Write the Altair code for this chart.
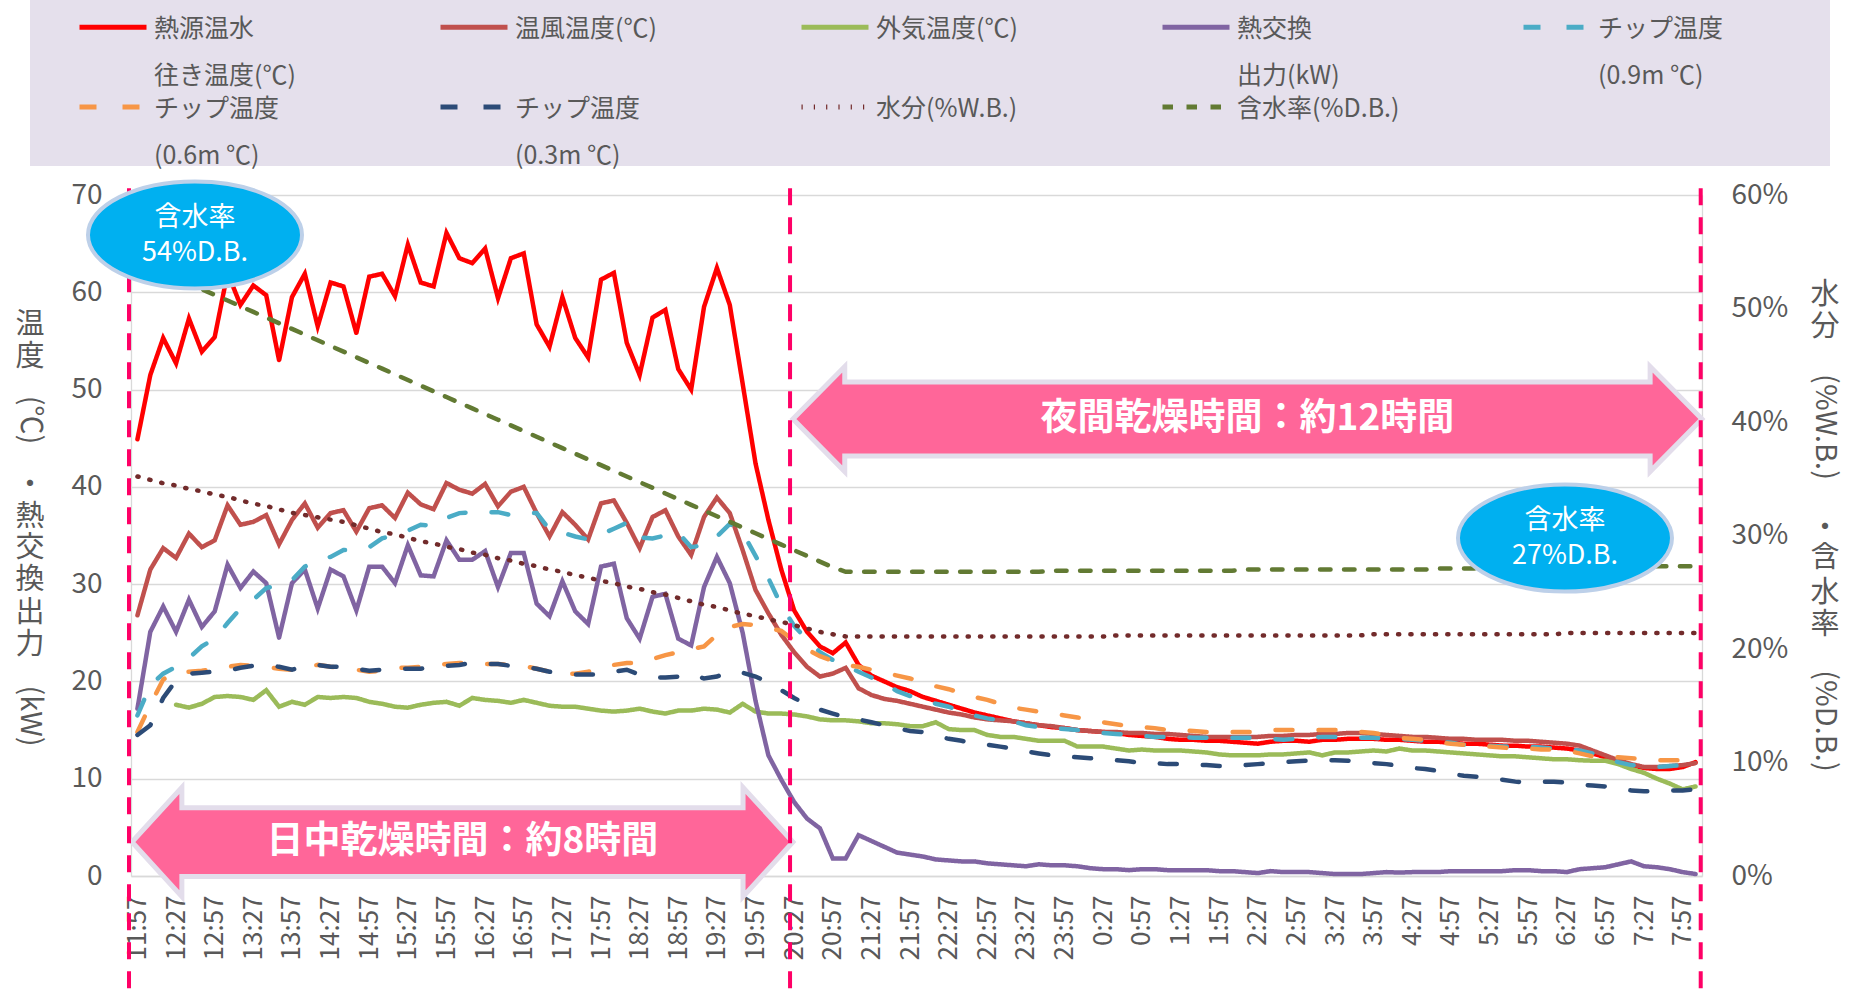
import altair as alt
import pandas as pd

FONT = "Noto Sans CJK JP"
GRAY = "#595959"

# ---- x-axis tick labels (every 3rd 10-minute sample) ----
tick_labels = ["11:57", "12:27", "12:57", "13:27", "13:57", "14:27", "14:57", "15:27",
               "15:57", "16:27", "16:57", "17:27", "17:57", "18:27", "18:57", "19:27",
               "19:57", "20:27", "20:57", "21:27", "21:57", "22:27", "22:57", "23:27",
               "23:57", "0:27", "0:57", "1:27", "1:57", "2:27", "2:57", "3:27", "3:57",
               "4:27", "4:57", "5:27", "5:57", "6:27", "6:57", "7:27", "7:57"]

# ---- series (10-minute samples, 11:57 -> 8:07) ----
hot_water = [44.9, 51.5, 55.3, 52.7, 57.3, 53.9, 55.4, 62.0, 58.7, 60.7,
             59.7, 53.0, 59.5, 61.9, 56.5, 61.0, 60.6, 55.8, 61.6, 61.9,
             59.6, 64.9, 61.0, 60.6, 66.1, 63.5, 63.0, 64.5, 59.4, 63.5,
             64.0, 56.7, 54.4, 59.5, 55.3, 53.3, 61.3, 62.0, 54.8, 51.5,
             57.4, 58.2, 52.1, 50.0, 58.5, 62.5, 58.7, 50.6, 42.4, 36.6,
             31.5, 27.3, 25.1, 23.6, 22.9, 24.0, 21.7, 20.6, 20.0, 19.4,
             19.0, 18.4, 18.0, 17.6, 17.2, 16.8, 16.5, 16.2, 15.9, 15.7,
             15.5, 15.3, 15.2, 15.0, 14.9, 14.8, 14.7, 14.5, 14.4, 14.3,
             14.1, 14.0, 14.0, 13.9, 13.9, 13.8, 13.7, 13.6, 13.8, 13.9,
             13.9, 13.8, 14.0, 14.0, 14.1, 14.1, 14.1, 14.0, 14.0, 13.9,
             13.8, 13.8, 13.7, 13.6, 13.6, 13.5, 13.4, 13.4, 13.3, 13.3,
             13.2, 13.1, 12.9, 12.6, 12.2, 11.8, 11.4, 11.1, 11.0, 11.0,
             11.2, 11.7]

warm_air = [26.8, 31.5, 33.7, 32.7, 35.2, 33.8, 34.5, 38.1, 36.1, 36.4,
            37.1, 34.1, 36.6, 38.3, 35.8, 37.3, 37.6, 35.4, 37.8, 38.1,
            36.8, 39.4, 38.2, 37.7, 40.4, 39.7, 39.3, 40.3, 38.0, 39.5,
            40.0, 37.3, 34.9, 37.4, 36.1, 34.6, 38.3, 38.6, 36.3, 33.7,
            36.9, 37.6, 34.9, 33.0, 36.9, 38.9, 37.3, 33.5, 29.4, 27.0,
            24.8, 23.0, 21.5, 20.5, 20.8, 21.4, 19.3, 18.6, 18.2, 18.0,
            17.7, 17.4, 17.1, 16.8, 16.6, 16.3, 16.1, 16.0, 15.9, 15.7,
            15.5, 15.4, 15.2, 15.0, 14.9, 14.8, 14.8, 14.7, 14.7, 14.6,
            14.6, 14.5, 14.4, 14.3, 14.3, 14.3, 14.3, 14.3, 14.4, 14.4,
            14.5, 14.5, 14.6, 14.6, 14.7, 14.7, 14.6, 14.5, 14.4, 14.3,
            14.3, 14.2, 14.1, 14.1, 14.0, 14.0, 14.0, 13.9, 13.9, 13.8,
            13.7, 13.6, 13.4, 12.9, 12.4, 11.9, 11.5, 11.2, 11.2, 11.3,
            11.4, 11.6]

outside_air = [None, None, None, 17.6, 17.3, 17.7, 18.4, 18.5, 18.4, 18.1,
               19.1, 17.4, 17.9, 17.6, 18.4, 18.3, 18.4, 18.3, 17.9, 17.7,
               17.4, 17.3, 17.6, 17.8, 17.9, 17.5, 18.3, 18.1, 18.0, 17.8,
               18.1, 17.8, 17.5, 17.4, 17.4, 17.2, 17.0, 16.9, 17.0, 17.2,
               16.9, 16.7, 17.0, 17.0, 17.2, 17.1, 16.8, 17.7, 16.9, 16.7,
               16.7, 16.6, 16.4, 16.1, 16.0, 16.0, 15.9, 15.7, 15.7, 15.6,
               15.4, 15.4, 15.8, 15.1, 15.0, 15.0, 14.5, 14.3, 14.3, 14.1,
               13.9, 13.9, 13.9, 13.3, 13.3, 13.3, 13.1, 12.9, 13.0, 12.9,
               12.9, 12.9, 12.8, 12.7, 12.5, 12.4, 12.4, 12.4, 12.5, 12.5,
               12.6, 12.7, 12.4, 12.7, 12.7, 12.8, 12.9, 12.8, 13.1, 12.9,
               12.9, 12.8, 12.7, 12.6, 12.5, 12.4, 12.3, 12.3, 12.2, 12.1,
               12.0, 12.0, 11.9, 11.85, 11.85, 11.5, 11.0, 10.6, 10.0, 9.5,
               8.9, 9.2]

heat_output = [17.2, 25.1, 27.7, 25.1, 28.4, 25.6, 27.2, 32.0, 29.6, 31.3,
               30.1, 24.5, 30.1, 31.5, 27.5, 31.5, 30.8, 27.3, 31.8, 31.8,
               30.1, 34.0, 30.9, 30.8, 34.5, 32.5, 32.5, 33.4, 29.7, 33.2,
               33.2, 28.0, 26.7, 30.3, 27.2, 25.9, 31.8, 32.1, 26.5, 24.4,
               28.7, 29.0, 24.4, 23.7, 29.7, 32.8, 30.1, 25.0, 18.0, 12.4,
               9.9, 7.6, 5.9, 4.9, 1.8, 1.8, 4.2, 3.6, 3.0, 2.4,
               2.2, 2.0, 1.7, 1.6, 1.5, 1.5, 1.3, 1.2, 1.1, 1.0,
               1.2, 1.1, 1.1, 1.0, 0.8, 0.7, 0.7, 0.6, 0.7, 0.7,
               0.6, 0.6, 0.6, 0.6, 0.5, 0.5, 0.4, 0.3, 0.5, 0.4,
               0.4, 0.4, 0.3, 0.2, 0.2, 0.2, 0.3, 0.4, 0.35, 0.4,
               0.4, 0.4, 0.5, 0.5, 0.5, 0.5, 0.5, 0.6, 0.6, 0.5,
               0.5, 0.4, 0.7, 0.8, 0.9, 1.2, 1.5, 1.0, 0.9, 0.7,
               0.4, 0.2]

chip_09 = [16.5, 19.6, 20.8, 21.5, 22.4, 23.6, 24.4, 26.0, 27.5, 28.4,
           29.6, 29.9, 30.4, 31.8, 32.5, 32.8, 33.5, 33.5, 33.8, 34.7,
           35.1, 35.5, 36.1, 36.0, 36.8, 37.3, 37.4, 37.4, 37.4, 37.1,
           37.3, 37.3, 35.6, 35.3, 34.9, 34.6, 35.1, 35.7, 36.3, 34.8,
           34.7, 35.0, 35.3, 33.8, 34.0, 34.9, 36.2, 35.3, 32.9, 30.6,
           27.8, 25.7, 24.3, 23.0, 22.2, 21.6, 21.0, 20.4, 19.8, 19.0,
           18.5, 18.2, 17.7, 17.4, 16.9, 16.5, 16.2, 16.0, 15.9, 15.5,
           15.3, 15.2, 15.1, 15.0, 14.8, 14.7, 14.6, 14.5, 14.4, 14.3,
           14.3, 14.3, 14.2, 14.2, 14.2, 14.2, 14.2, 14.2, 14.1, 14.0,
           14.1, 14.2, 14.3, 14.3, 14.3, 14.2, 14.2, 14.1, 14.1, 14.0,
           13.9, 13.8, 13.7, 13.5, 13.5, 13.4, 13.3, 13.3, 13.3, 13.2,
           13.1, 13.0, 12.9, 12.6, 12.2, 11.7, 11.4, 11.3, 11.2, 11.3,
           11.4, 11.6]

chip_06 = [14.8, 17.6, 20.2, 21.0, 21.0, 21.1, 21.3, 21.5, 21.7, 21.6,
           21.5, 21.3, 21.2, 21.5, 21.7, 21.5, 21.4, 21.2, 21.0, 21.1,
           21.4, 21.4, 21.5, 21.6, 21.8, 21.9, 21.9, 21.8, 21.8, 21.7,
           21.6, 21.3, 21.0, 20.8, 20.8, 21.0, 21.2, 21.7, 21.9, 21.9,
           22.3, 22.7, 23.0, 23.3, 23.6, 24.8, 25.6, 25.9, 25.8, 25.5,
           25.2, 24.2, 23.3, 22.6, 22.1, 21.7, 21.5, 21.2, 20.9, 20.6,
           20.3, 20.0, 19.5, 19.2, 18.8, 18.4, 18.1, 17.7, 17.3, 17.1,
           16.9, 16.7, 16.5, 16.3, 16.1, 15.8, 15.6, 15.4, 15.3, 15.2,
           15.0, 15.0, 14.9, 14.8, 14.8, 14.8, 14.8, 14.8, 15.0, 15.0,
           15.0, 15.0, 15.0, 15.0, 14.9, 14.8, 14.7, 14.5, 14.2, 14.1,
           14.0, 13.7, 13.6, 13.5, 13.4, 13.3, 13.2, 13.1, 13.1, 13.0,
           13.0, 12.9, 12.6, 12.3, 12.3, 12.2, 12.1, 12.0, 11.9, 11.9,
           11.9, 12.0]

chip_03 = [14.5, 15.5, 18.3, 20.1, 20.8, 20.9, 21.0, 21.1, 21.4, 21.6,
           21.7, 21.5, 21.2, 21.6, 21.7, 21.5, 21.5, 21.3, 21.1, 21.2,
           21.3, 21.3, 21.3, 21.5, 21.6, 21.7, 21.9, 21.8, 21.8, 21.6,
           21.5, 21.3, 21.0, 20.8, 20.7, 20.7, 20.7, 21.0, 21.2, 20.7,
           20.4, 20.4, 20.5, 20.8, 20.3, 20.5, 21.0, 20.9, 20.5, 19.9,
           19.1, 18.3, 17.6, 17.1, 16.7, 16.3, 16.1, 15.8, 15.5, 15.2,
           14.9, 14.8, 14.4, 14.1, 13.9, 13.6, 13.5, 13.3, 13.1, 12.8,
           12.6, 12.4, 12.3, 12.2, 12.1, 12.0, 11.9, 11.8, 11.6, 11.6,
           11.5, 11.5, 11.4, 11.4, 11.3, 11.3, 11.4, 11.5, 11.6, 11.7,
           11.8, 11.85, 11.9, 11.9, 11.85, 11.7, 11.6, 11.5, 11.3, 11.1,
           11.0, 10.8, 10.5, 10.3, 10.2, 10.0, 9.9, 9.7, 9.6, 9.7,
           9.7, 9.6, 9.4, 9.3, 9.2, 8.9, 8.8, 8.7, 8.7, 8.8,
           8.8, 8.9]

moisture_wb = [35.2, 34.9, 34.6, 34.4, 34.1, 33.9, 33.6, 33.4, 33.1, 32.8,
               32.6, 32.3, 32.0, 31.8, 31.6, 31.4, 31.2, 30.9, 30.6, 30.3,
               30.1, 29.8, 29.5, 29.3, 29.0, 28.8, 28.5, 28.3, 28.0, 27.8,
               27.5, 27.3, 27.0, 26.8, 26.5, 26.3, 26.0, 25.8, 25.5, 25.3,
               25.0, 24.8, 24.5, 24.2, 23.9, 23.7, 23.4, 23.1, 22.9, 22.6,
               22.4, 22.1, 21.8, 21.5, 21.3, 21.1, 21.1, 21.1, 21.1, 21.1,
               21.1, 21.1, 21.1, 21.1, 21.1, 21.1, 21.1, 21.1, 21.1, 21.1,
               21.1, 21.1, 21.1, 21.1, 21.1, 21.1, 21.2, 21.2, 21.2, 21.2,
               21.2, 21.2, 21.2, 21.2, 21.2, 21.2, 21.2, 21.2, 21.2, 21.2,
               21.2, 21.2, 21.2, 21.2, 21.2, 21.2, 21.3, 21.3, 21.3, 21.3,
               21.3, 21.3, 21.3, 21.3, 21.3, 21.3, 21.3, 21.3, 21.3, 21.3,
               21.3, 21.4, 21.4, 21.4, 21.4, 21.4, 21.4, 21.4, 21.4, 21.4,
               21.4, 21.4]

moisture_db = [54.2, 53.7, 53.2, 52.7, 52.2, 51.7, 51.2, 50.7, 50.2, 49.7,
               49.2, 48.7, 48.2, 47.7, 47.2, 46.7, 46.2, 45.7, 45.2, 44.7,
               44.2, 43.7, 43.2, 42.7, 42.2, 41.7, 41.2, 40.7, 40.2, 39.7,
               39.2, 38.7, 38.2, 37.7, 37.2, 36.7, 36.2, 35.7, 35.2, 34.7,
               34.2, 33.7, 33.2, 32.7, 32.2, 31.7, 31.2, 30.7, 30.2, 29.7,
               29.2, 28.7, 28.2, 27.7, 27.2, 26.8, 26.8, 26.8, 26.8, 26.8,
               26.8, 26.8, 26.8, 26.8, 26.8, 26.8, 26.8, 26.8, 26.8, 26.8,
               26.8, 26.9, 26.9, 26.9, 26.9, 26.9, 26.9, 26.9, 26.9, 26.9,
               26.9, 26.9, 26.9, 26.9, 26.9, 26.9, 27.0, 27.0, 27.0, 27.0,
               27.0, 27.0, 27.0, 27.0, 27.0, 27.0, 27.0, 27.0, 27.0, 27.0,
               27.0, 27.1, 27.1, 27.1, 27.1, 27.1, 27.1, 27.1, 27.1, 27.1,
               27.1, 27.2, 27.2, 27.2, 27.2, 27.2, 27.2, 27.3, 27.3, 27.3,
               27.3, 27.3]

series_names = ["熱源温水\n往き温度(℃)", "温風温度(℃)", "外気温度(℃)", "熱交換\n出力(kW)",
                "チップ温度\n(0.9m ℃)", "チップ温度\n(0.6m ℃)", "チップ温度\n(0.3m ℃)",
                "水分(%W.B.)", "含水率(%D.B.)"]
series_colors = ["#FF0000", "#C0504D", "#9BBB59", "#8064A2", "#4BACC6", "#F79646",
                 "#2C4B77", "#722B2B", "#627A33"]
series_dashes = [[1, 0], [1, 0], [1, 0], [1, 0], [17, 26], [17, 26], [17, 26],
                 [1.2, 11.1], [10.5, 13.5]]

left_values = [hot_water, warm_air, outside_air, heat_output, chip_09, chip_06, chip_03]
right_values = [moisture_wb, moisture_db]


def long_table(names, value_lists):
    rows = []
    for name, vals in zip(names, value_lists):
        for i, v in enumerate(vals):
            rows.append({"i": i, "value": v, "series": name})
    return pd.DataFrame(rows)


left_df = long_table(series_names[:7], left_values)
right_df = long_table(series_names[7:], right_values)

# ---- annotations ----
arrow_day = "M-1,0L-0.849,-0.165L-0.849,-0.104L0.849,-0.104L0.849,-0.165L1,0L0.849,0.165L0.849,0.104L-0.849,0.104L-0.849,0.165Z"
arrow_night = "M-1,0L-0.886,-0.1155L-0.886,-0.0814L0.886,-0.0814L0.886,-0.1155L1,0L0.886,0.1155L0.886,0.0814L-0.886,0.0814L-0.886,0.1155Z"
ellipse = "M1,0C1,0.276 0.552,0.5 0,0.5C-0.552,0.5 -1,0.276 -1,0C-1,-0.276 -0.552,-0.5 0,-0.5C0.552,-0.5 1,-0.276 1,0Z"

arrows_df = pd.DataFrame({
    "i": [25.24, 86.2],
    "value": [3.49, 46.97],
    "path": [arrow_day, arrow_night],
    "sz": [436921, 826281],
    "label": ["日中乾燥時間：約8時間", "夜間乾燥時間：約12時間"],
})
ellipses_df = pd.DataFrame({
    "i": [4.47, 110.86],
    "value": [65.89, 34.74],
    "path": [ellipse, ellipse],
    "sz": [45796, 45796],
    "label": ["含水率\n54%D.B.", "含水率\n27%D.B."],
})
vlines_df = pd.DataFrame({"i": [-0.655, 50.68, 121.40], "top": [70.7, 70.7, 70.7],
                          "bottom": [-12.0, -12.0, -12.0]})

title_parts = pd.DataFrame([
    ("温", -101, 130, 0), ("度", -101, 162, 0), ("(℃)", -101, 225, 90), ("・", -101, 290, 0),
    ("熱", -101, 322, 0), ("交", -101, 353, 0), ("換", -101, 385, 0), ("出", -101, 418, 0),
    ("力", -101, 450, 0), ("(kW)", -101, 521, 90),
    ("水", 1694, 100, 0), ("分", 1694, 132, 0), ("(%W.B.)", 1694, 232, 90), ("・", 1694, 333, 0),
    ("含", 1694, 363, 0), ("水", 1694, 398, 0), ("率", 1694, 430, 0), ("(%D.B.)", 1694, 526, 90),
], columns=["t", "px", "py", "ang"])

# ---- scales / encodings ----
x_scale = alt.Scale(domain=[-0.5, 121.5], nice=False, zero=False)
label_expr = "[" + ",".join("'" + t + "'" for t in tick_labels) + "][round(datum.value / 3)]"
x_axis = alt.Axis(values=list(range(0, 121, 3)), labelExpr=label_expr, labelAngle=-90,
                  grid=False, ticks=False, tickSize=0, domain=True, domainColor="#D9D9D9",
                  domainWidth=1.3, labelPadding=19, labelFontSize=26, labelColor=GRAY,
                  labelFont=FONT, labelOverlap=False, labelFlush=False)
x_main = alt.X("i:Q", scale=x_scale, title=None, axis=x_axis)
y_ann = alt.Y("value:Q", scale=alt.Scale(domain=[0, 70], nice=False), axis=None)

leg = alt.Legend(title=None, orient="none", legendX=-54, legendY=-181, direction="horizontal",
                 columns=5, columnPadding=113, rowPadding=5, gridAlign="all",
                 labelFont=FONT, labelFontSize=25, labelColor=GRAY, labelLimit=400, labelOffset=18.5,
                 labelBaseline="alphabetic",
                 labelExpr="indexof(datum.label, '\\n') >= 0 ? split(datum.label, '\\n') : [datum.label, ' ']",
                 symbolType="M-1.675,-0.475L1.675,-0.475", symbolSize=1600, symbolOffset=13.5,
                 symbolStrokeWidth=5)
color_enc = alt.Color("series:N", scale=alt.Scale(domain=series_names, range=series_colors), legend=leg)
dash_enc = alt.StrokeDash("series:N", scale=alt.Scale(domain=series_names, range=series_dashes), legend=leg)

legend_bg = alt.Chart(pd.DataFrame({"a": [0]})).mark_rect(color="#E5E0EC").encode(
    x=alt.value(-101), x2=alt.value(1699), y=alt.value(-195), y2=alt.value(-29))

left_lines = alt.Chart(left_df).mark_line(strokeWidth=4.5, strokeCap="round").encode(
    x=x_main,
    y=alt.Y("value:Q", scale=alt.Scale(domain=[0, 70], nice=False), title=None,
            axis=alt.Axis(values=list(range(0, 71, 10)), grid=True, gridColor="#D9D9D9", gridWidth=1.3,
                          domain=True, domainColor="#D9D9D9", domainWidth=1.3, ticks=False,
                          labelPadding=29, labelFontSize=28, labelColor=GRAY, labelFont=FONT)),
    color=color_enc, strokeDash=dash_enc)

right_lines = alt.Chart(right_df).mark_line(strokeWidth=4.5, strokeCap="round").encode(
    x=x_main,
    y=alt.Y("value:Q", scale=alt.Scale(domain=[0, 60], nice=False), title=None,
            axis=alt.Axis(orient="right", values=list(range(0, 61, 10)), labelExpr="datum.value + '%'",
                          grid=False, domain=True, domainColor="#D9D9D9", domainWidth=1.3, ticks=False,
                          labelPadding=29, labelFontSize=28, labelColor=GRAY, labelFont=FONT)),
    color=color_enc, strokeDash=dash_enc)

arrows = alt.Chart(arrows_df).mark_point(filled=True, fill="#FF6699", stroke="#E3DDEB",
                                         strokeWidth=5, opacity=1).encode(
    x=x_main, y=y_ann, shape=alt.Shape("path:N", scale=None), size=alt.Size("sz:Q", scale=None))
arrow_text = alt.Chart(arrows_df).mark_text(font=FONT, fontSize=37, fontWeight="bold", color="white",
                                            align="center", baseline="middle").encode(
    x=x_main, y=y_ann, text="label:N")

vlines = alt.Chart(vlines_df).mark_rule(color="#FF0066", strokeWidth=4, strokeDash=[17, 12]).encode(
    x=x_main, y=alt.Y("top:Q", scale=alt.Scale(domain=[0, 70], nice=False), axis=None), y2="bottom:Q")

ellipses = alt.Chart(ellipses_df).mark_point(filled=True, fill="#00B0F0", stroke="#BDD0E9",
                                             strokeWidth=4, opacity=1).encode(
    x=x_main, y=y_ann, shape=alt.Shape("path:N", scale=None), size=alt.Size("sz:Q", scale=None))
ellipse_text = alt.Chart(ellipses_df).mark_text(font=FONT, fontSize=27, color="white", lineBreak="\n",
                                                lineHeight=35, dy=-17, align="center",
                                                baseline="middle").encode(
    x=x_main, y=y_ann, text="label:N")

titles = alt.Chart(title_parts).mark_text(font=FONT, fontSize=29, color=GRAY, align="center",
                                          baseline="middle").encode(
    x=alt.X("px:Q", scale=None, axis=None), y=alt.Y("py:Q", scale=None, axis=None),
    angle=alt.Angle("ang:Q", scale=None), text="t:N")

chart = alt.layer(
    legend_bg, left_lines, right_lines, arrows, arrow_text, vlines, ellipses, ellipse_text, titles
).resolve_scale(y="independent").properties(
    width=1571, height=681,
    autosize=alt.AutoSizeParams(type="none"),
    padding={"left": 131, "top": 195, "right": 152, "bottom": 115},
).configure(
    font=FONT, background="white", style={"guide-label": {"lineHeight": 47}}
).configure_view(stroke=None)

chart.save("out.html", embed_options={"renderer": "svg", "actions": False})
